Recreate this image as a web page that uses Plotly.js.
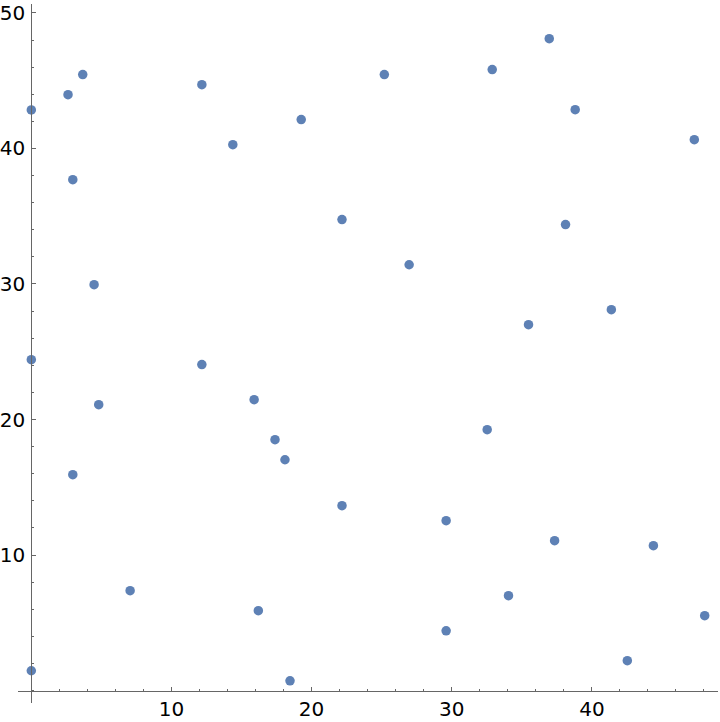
<!DOCTYPE html>
<html>
<head>
<meta charset="utf-8">
<script src="https://cdn.plot.ly/plotly-3.0.1.min.js"></script>
<style>html,body{margin:0;padding:0;background:#fff;}#chart{width:720px;height:722px;}</style>
</head>
<body>
<div id="chart"></div>
<script>
// Data
const xValues = [0, 2.62, 3.67, 12.17, 14.38, 2.96, 4.48, 0, 12.17, 15.9, 4.81, 2.96, 7.05, 16.2, 0,
  25.19, 32.89, 19.26, 22.17, 26.96, 17.39, 18.1, 32.53, 22.17, 29.6, 29.6, 18.46,
  36.96, 38.81, 47.31, 38.12, 41.39, 35.48, 37.34, 44.39, 34.05, 48.05, 42.53];
const yValues = [42.84, 43.97, 45.45, 44.71, 40.28, 37.70, 29.95, 24.41, 24.05, 21.46, 21.09, 15.93, 7.37, 5.89, 1.46,
  45.45, 45.82, 42.13, 34.75, 31.42, 18.51, 17.03, 19.25, 13.64, 12.53, 4.41, 0.72,
  48.1, 42.86, 40.65, 34.38, 28.1, 27.0, 11.06, 10.69, 7.0, 5.52, 2.2];
const xTickVals = [10, 20, 30, 40];
const yTickVals = [10, 20, 30, 40, 50];

const xRange = [-0.95, 49.0];
const yRange = [-0.92, 50.66];
const axisColor = '#666666';
const tickFont = {family: 'DejaVu Sans', size: 20, color: '#000000'};

const trace = {
  type: 'scatter', mode: 'markers', x: xValues, y: yValues,
  marker: {color: 'rgb(94,129,181)', size: 9.5, line: {width: 0}},
  hoverinfo: 'none', showlegend: false
};

const layout = {
  width: 720, height: 722,
  margin: {l: 18, r: 2, t: 4, b: 19, pad: 0},
  paper_bgcolor: '#ffffff', plot_bgcolor: '#ffffff',
  showlegend: false,
  xaxis: {
    range: xRange, anchor: 'free',
    position: (0 - yRange[0]) / (yRange[1] - yRange[0]),
    showgrid: false, zeroline: false,
    showline: true, linecolor: axisColor, linewidth: 1,
    tickmode: 'array', tickvals: xTickVals, ticktext: xTickVals.map(String),
    ticks: 'inside', ticklen: 4, tickwidth: 1, tickcolor: axisColor,
    minor: {tickmode: 'linear', tick0: 0, dtick: 2, ticks: 'inside', ticklen: 2, tickwidth: 1, tickcolor: axisColor, showgrid: false},
    tickfont: tickFont, ticklabelstandoff: 0
  },
  yaxis: {
    range: yRange, anchor: 'free',
    position: (0 - xRange[0]) / (xRange[1] - xRange[0]),
    showgrid: false, zeroline: false,
    showline: true, linecolor: axisColor, linewidth: 1,
    tickmode: 'array', tickvals: yTickVals, ticktext: yTickVals.map(String),
    ticks: 'inside', ticklen: 4, tickwidth: 1, tickcolor: axisColor,
    minor: {tickmode: 'linear', tick0: 0, dtick: 2, ticks: 'inside', ticklen: 2, tickwidth: 1, tickcolor: axisColor, showgrid: false},
    tickfont: tickFont, ticklabelstandoff: 2
  }
};

Plotly.newPlot('chart', [trace], layout, {staticPlot: true, displayModeBar: false});
</script>
</body>
</html>
